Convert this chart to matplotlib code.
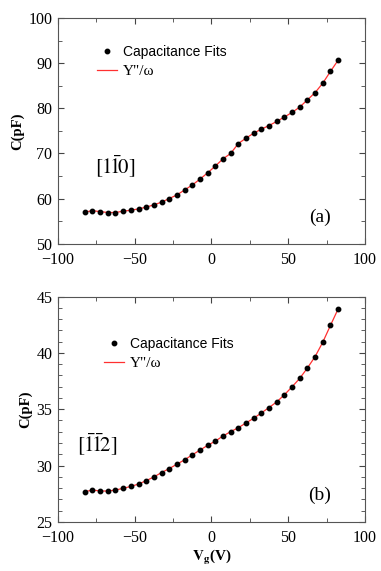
import numpy as np
import matplotlib
matplotlib.use('Agg')
import matplotlib.pyplot as plt
from matplotlib.ticker import MultipleLocator

# gate voltage (V), same grid for both panels
vg = [-82.5, -77.5, -72.5, -67.5, -62.5, -57.5, -52.5, -47.5, -42.5, -37.5,
      -32.5, -27.5, -22.5, -17.5, -12.5, -7.5, -2.5, 2.5, 7.5, 12.5,
      17.5, 22.5, 27.5, 32.5, 37.5, 42.5, 47.5, 52.5, 57.5, 62.5,
      67.5, 72.5, 77.5, 82.5]

# panel (a) [1-10]
cap_a = [57.0, 57.3, 57.1, 56.9, 56.9, 57.2, 57.4, 57.7, 58.1, 58.6,
         59.2, 60.0, 60.8, 61.9, 63.0, 64.3, 65.7, 67.2, 68.8, 70.0,
         72.2, 73.4, 74.5, 75.4, 76.2, 77.1, 78.1, 79.1, 80.3, 81.9,
         83.5, 85.6, 88.2, 90.7]

# panel (b) [-1-12]
cap_b = [27.68, 27.83, 27.74, 27.74, 27.83, 27.98, 28.15, 28.36, 28.66, 28.99,
         29.38, 29.73, 30.12, 30.51, 30.95, 31.37, 31.79, 32.17, 32.62, 33.01,
         33.36, 33.78, 34.20, 34.67, 35.15, 35.65, 36.28, 36.99, 37.74, 38.66,
         39.67, 40.95, 42.44, 43.90]

plt.rcParams['font.family'] = ['Liberation Serif', 'DejaVu Serif']
plt.rcParams['mathtext.fontset'] = 'stix'

fig, (ax1, ax2) = plt.subplots(2, 1, figsize=(3.81, 5.71), dpi=100)
fig.subplots_adjust(left=0.152, right=0.958, top=0.968, bottom=0.086, hspace=0.235)

panels = [
    (ax1, cap_a, (50, 100), 10, 5, r'$[1\!\bar{1}\!0]$', (0.185, 0.34), '(a)', (0.855, 0.115), (0.127, 0.88)),
    (ax2, cap_b, (25, 45), 5, 1, r'$[\bar{1}\!\bar{1}\!2]$', (0.127, 0.34), '(b)', (0.852, 0.12), (0.15, 0.82)),
]

for ax, cap, ylim, ymaj, ymin, tag, tagpos, lab, labpos, legpos in panels:
    ax.plot(vg, cap, color='#ff3030', lw=0.9, label='Y"/ω', zorder=2)
    ax.plot(vg, cap, 'o', color='black', ms=3.2, lw=0, label='Capacitance Fits', zorder=3)
    ax.set_xlim(-100, 100)
    ax.set_ylim(*ylim)
    ax.xaxis.set_major_locator(MultipleLocator(50))
    ax.xaxis.set_minor_locator(MultipleLocator(25))
    ax.yaxis.set_major_locator(MultipleLocator(ymaj))
    ax.yaxis.set_minor_locator(MultipleLocator(ymin))
    ax.tick_params(which='both', direction='in', top=True, right=True,
                   color='#444444', labelsize=11.5)
    ax.tick_params(axis='x', pad=6)
    ax.tick_params(axis='y', pad=4)
    ax.tick_params(which='major', length=4)
    ax.tick_params(which='minor', length=3)
    for s in ax.spines.values():
        s.set_color('#555555')
        s.set_linewidth(0.8)
    ax.set_ylabel('C(pF)', fontweight='bold', fontsize=10.5, labelpad=3)
    ax.text(*tagpos, tag, transform=ax.transAxes, fontsize=15, ha='center', va='center')
    ax.text(*labpos, lab, transform=ax.transAxes, fontsize=14, ha='center', va='center')
    h, l = ax.get_legend_handles_labels()
    leg = ax.legend(h[::-1], l[::-1], loc='upper left', bbox_to_anchor=legpos,
                    frameon=False, fontsize=10, handlelength=1.45,
                    handletextpad=0.45, labelspacing=0.4, borderaxespad=0,
                    borderpad=0)
    leg.get_texts()[0].set_family('Liberation Sans')
    leg.get_texts()[1].set_fontsize(11)

ax2.set_xlabel(r'$\mathbf{V_g}$(V)', fontweight='bold', fontsize=11, labelpad=1)

plt.savefig('out.png', dpi=100)
